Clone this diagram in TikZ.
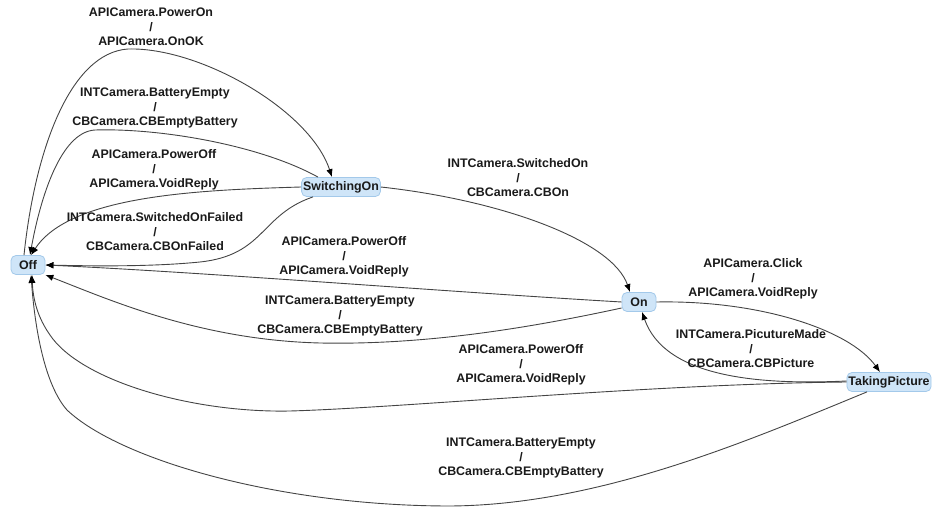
\documentclass[tikz,border=0pt]{standalone}
\usepackage{fontspec}
\setmainfont{Liberation Sans}
\usetikzlibrary{arrows.meta}
\definecolor{nodefill}{HTML}{CFE5F8}
\definecolor{nodeline}{HTML}{A3C9EA}
\definecolor{edgecol}{HTML}{444444}
\definecolor{txt}{HTML}{1A1A1A}
\begin{document}
\begin{tikzpicture}[x=1pt,y=-1pt,
  state/.style={draw=nodeline,fill=nodefill,rounded corners=5pt,line width=0.8pt,
    inner xsep=1.5pt,inner ysep=0pt,minimum height=19pt,minimum width=34pt,
    font=\fontsize{12.4}{14.5}\selectfont\bfseries,text=txt},
  lbl/.style={align=center,font=\fontsize{12.4}{14.5}\selectfont\bfseries,text=txt,inner sep=0pt},
  edge/.style={draw=edgecol,line width=0.9pt,-{Latex[length=8pt,width=6.5pt,color=black]}}]
\useasboundingbox (0,0) rectangle (932,510);

% states
\node[state] (Off) at (28,265) {Off};
\node[state] (SwitchingOn) at (341,187) {SwitchingOn};
\node[state] (On) at (639,302) {On};
\node[state] (TakingPicture) at (889,382) {TakingPicture};

% transitions
\draw[edge] ([xshift=-4pt]Off.north) .. controls (35,150) and (70,53) .. (128,49)
  .. controls (200,47) and (310,110) .. ([xshift=-9pt]SwitchingOn.north);
\draw[edge] ([xshift=-23pt]SwitchingOn.north) .. controls (260,145) and (160,128) .. (95,130)
  .. controls (60,132) and (40,200) .. ([xshift=2pt]Off.north);
\draw[edge] (SwitchingOn.west) .. controls (200,190) and (70,195) .. ([xshift=3pt]Off.north);
\draw[edge] ([xshift=-28pt]SwitchingOn.south) .. controls (260,215) and (265,255) .. (200,262)
  .. controls (150,267) and (90,266) .. (Off.east);
\draw[edge] (SwitchingOn.east) .. controls (500,200) and (612,240) .. ([xshift=-9pt]On.north);
\draw[edge] (On.west) .. controls (450,292) and (200,272) .. (Off.east);
\draw[edge] ([yshift=-6pt]On.west) .. controls (520,330) and (420,345) .. (320,343)
  .. controls (200,340) and (110,300) .. (Off.south east);
\draw[edge] (On.east) .. controls (760,300) and (850,330) .. ([xshift=-9pt]TakingPicture.north);
\draw[edge] ([yshift=1pt]TakingPicture.west) .. controls (760,385) and (665,378) .. ([xshift=3pt]On.south);
\draw[edge] (TakingPicture.west) .. controls (650,384) and (400,408) .. (290,411)
  .. controls (190,413) and (80,380) .. (50,335)
  .. controls (38,318) and (33,300) .. ([xshift=4pt]Off.south);
\draw[edge] ([xshift=-22pt]TakingPicture.south) .. controls (750,440) and (600,505) .. (450,506)
  .. controls (280,506) and (120,460) .. (67,410)
  .. controls (45,385) and (35,330) .. ([xshift=3pt]Off.south);

% labels
\node[lbl] (l1) at (151,27) {APICamera.PowerOn\\/\\APICamera.OnOK};
\node[lbl] (l2) at (155,108) {INTCamera.BatteryEmpty\\/\\CBCamera.CBEmptyBattery};
\node[lbl] (l3) at (154,170) {APICamera.PowerOff\\/\\APICamera.VoidReply};
\node[lbl] (l4) at (155,232) {INTCamera.SwitchedOnFailed\\/\\CBCamera.CBOnFailed};
\node[lbl] (l5) at (518,178) {INTCamera.SwitchedOn\\/\\CBCamera.CBOn};
\node[lbl] (l6) at (344,257) {APICamera.PowerOff\\/\\APICamera.VoidReply};
\node[lbl] (l7) at (340,316) {INTCamera.BatteryEmpty\\/\\CBCamera.CBEmptyBattery};
\node[lbl] (l8) at (753,279) {APICamera.Click\\/\\APICamera.VoidReply};
\node[lbl] (l9) at (751,349) {INTCamera.PicutureMade\\/\\CBCamera.CBPicture};
\node[lbl] (l10) at (521,365) {APICamera.PowerOff\\/\\APICamera.VoidReply};
\node[lbl] (l11) at (521,458) {INTCamera.BatteryEmpty\\/\\CBCamera.CBEmptyBattery};
\end{tikzpicture}
\end{document}
